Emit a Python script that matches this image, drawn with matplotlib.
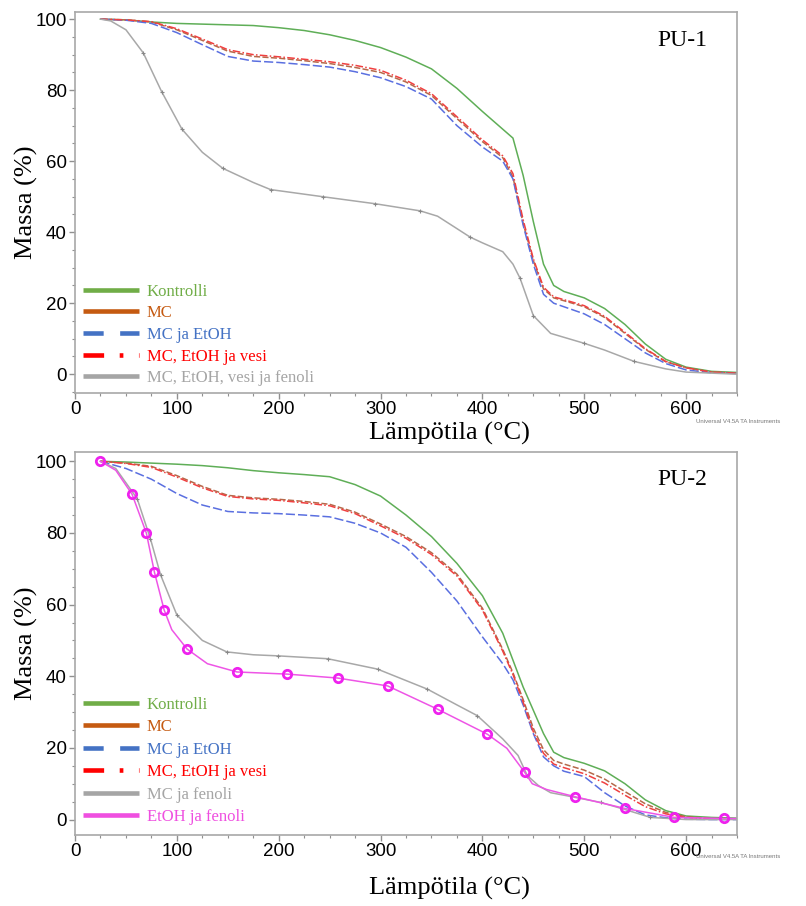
import numpy as np
import matplotlib
matplotlib.use("Agg")
import matplotlib.pyplot as plt
from matplotlib.lines import Line2D
from matplotlib.ticker import MultipleLocator

# -------------------------------
# Data (TGA curves)
# -------------------------------

# shared temperature grid for the smooth curves (°C)
temp = [25, 50, 75, 100, 125, 150, 175, 200, 225, 250, 275, 300, 325, 350, 375, 400, 420,
        430, 440, 450, 460, 470, 480, 500, 520, 540, 560, 580, 600, 625, 650]

# PU-1
pu1_kontrolli = [100, 99.8, 99.2, 98.8, 98.6, 98.4, 98.2, 97.6, 96.8, 95.6, 94, 92, 89.3, 86,
                 80.5, 74, 69, 66.5, 56, 43, 31, 25, 23.3, 21.5, 18.5, 14, 8.5, 4.2, 2, 0.8, 0.5]
pu1_mc = [100, 99.8, 99.2, 97, 94, 91, 89.5, 89, 88.3, 87.5, 86.4, 85, 82.3, 78.5, 72, 65.5,
          61, 55.5, 42.5, 32, 24, 21.5, 20.7, 19, 16, 11.5, 7, 3.5, 1.8, 0.6, 0.3]
pu1_mc_etoh = [100, 99.7, 98.8, 96.2, 92.8, 89.5, 88.2, 87.8, 87.2, 86.5, 85.2, 83.5, 81, 77.5,
               70, 64, 60, 55, 42, 31, 22.5, 20, 19, 17, 14, 10, 6, 3, 1.2, 0.4, 0.2]
pu1_mc_etoh_vesi = [100, 99.8, 99.3, 97.3, 94.4, 91.4, 90, 89.4, 88.7, 88, 87, 85.6, 82.8, 79,
                    72.5, 66, 61.5, 56.5, 43.5, 32.5, 24.5, 21.8, 21, 19.3, 16.3, 11.8, 7.2,
                    3.6, 1.8, 0.6, 0.3]

# fenoli curve of PU-1 has its own (denser) grid in the steep part
pu1_fen_temp = [25, 35, 50, 67, 85, 105, 125, 145, 175, 192, 243, 295, 339, 356, 375, 388,
                400, 420, 430, 437, 450, 467, 500, 520, 549, 580, 600, 650]
pu1_fen = [100, 99.5, 97, 90.5, 79.6, 69, 62.5, 58, 54, 52, 50, 48, 46, 44.5, 41, 38.6,
           37, 34.5, 31, 27, 16.5, 11.5, 8.7, 6.8, 3.6, 1.5, 0.6, 0]
pu1_fen_marks = [3, 4, 5, 7, 9, 10, 11, 12, 15, 19, 20, 22, 24]

# PU-2
pu2_kontrolli = [100, 99.8, 99.5, 99.2, 98.8, 98.2, 97.4, 96.8, 96.3, 95.7, 93.5, 90.3, 85, 79,
                 71.5, 62.5, 52, 44.5, 37, 30.5, 24, 18.8, 17.3, 15.7, 13.6, 10, 5.5, 2.5, 1,
                 0.6, 0.4]
pu2_mc = [100, 99.5, 98.6, 96, 93, 90.5, 89.8, 89.4, 88.8, 88, 85.8, 82.5, 79, 74.5, 68.5, 59,
          47.5, 41, 33.5, 25.5, 19.5, 16.5, 15.5, 13.8, 11.3, 7.8, 4.4, 2, 0.8, 0.3, 0.2]
pu2_mc_etoh = [100, 98, 95, 91, 87.8, 86, 85.6, 85.4, 85, 84.5, 82.7, 80, 76, 69, 61, 51,
               43.5, 39, 32, 24, 17.5, 15, 13.5, 12, 7.5, 3.8, 1.3, 0.5, 0.1, 0, 0]
pu2_mc_etoh_vesi = [100, 99.4, 98.3, 95.6, 92.6, 90.2, 89.5, 89.1, 88.4, 87.6, 85.4, 82, 78.5,
                    74, 68, 58.5, 47, 40.5, 32.8, 24.5, 18.5, 15.5, 14.5, 12.8, 10.2, 6.8, 3.6,
                    1.6, 0.6, 0.2, 0.1]

pu2_mcfen_temp = [25, 40, 50, 61, 74, 84, 100, 125, 149, 175, 199, 248, 297, 346, 375, 395,
                  420, 435, 444, 455, 467, 480, 516, 540, 565, 600, 650]
pu2_mc_fen = [100, 98, 94, 89.6, 78.4, 68.3, 57.1, 50, 46.8, 46, 45.7, 44.9, 42, 36.4, 32, 29,
              22.5, 17.9, 12.3, 9.5, 7.5, 6.8, 4.8, 2.8, 0.6, 0, 0]
pu2_mc_fen_marks = [3, 4, 5, 6, 8, 10, 11, 12, 13, 15, 18, 22, 24]

pu2_etfen_temp = [25, 40, 56, 70, 78, 87.5, 95, 110, 130, 159, 208.5, 258, 307, 356, 405, 424,
                  441.5, 449, 463, 490.6, 540, 588.6, 637, 650]
pu2_etoh_fen = [100, 97.5, 90.8, 80, 69, 58.5, 53, 47.6, 43.5, 41.2, 40.6, 39.5, 37.3, 30.8,
                23.8, 19.9, 13.2, 10, 8.4, 6.4, 3.1, 0.6, 0.3, 0.3]
pu2_etoh_fen_marks = [0, 2, 3, 4, 5, 7, 9, 10, 11, 12, 13, 14, 16, 19, 20, 21, 22]

# -------------------------------
# Styles
# -------------------------------
SERIF = "Liberation Serif"
SANS = "Liberation Sans"

GREEN = "#70ad47"
ORANGE = "#c55a11"
BLUE = "#4472c4"
RED = "#ff0000"
GRAY = "#a5a5a5"
PINK = "#ef4fe0"

plt.rcParams["font.family"] = SANS

fig = plt.figure(figsize=(8.06, 9.06), dpi=100)
ax1 = fig.add_axes([0.0931, 0.5662, 0.8213, 0.4205])
ax2 = fig.add_axes([0.0931, 0.0784, 0.8213, 0.4227])


def style_axes(ax, ylim, xlab_y):
    ax.set_xlim(0, 650)
    ax.set_ylim(*ylim)
    ax.xaxis.set_major_locator(MultipleLocator(100))
    ax.xaxis.set_minor_locator(MultipleLocator(25))
    ax.yaxis.set_major_locator(MultipleLocator(20))
    ax.yaxis.set_minor_locator(MultipleLocator(5))
    for s in ax.spines.values():
        s.set_color("#a8a8a8")
        s.set_linewidth(1.2)
    ax.tick_params(which="major", direction="out", length=4, width=1, color="#909090",
                   labelsize=13.5, pad=2)
    ax.tick_params(which="minor", direction="out", length=2.5, width=0.8, color="#909090")
    ax.set_xlabel("Lämpötila (°C)", fontfamily=SERIF, fontsize=19)
    ax.xaxis.set_label_coords(0.566, xlab_y)
    ax.set_ylabel("Massa (%)", fontfamily=SERIF, fontsize=19)
    ax.yaxis.set_label_coords(-0.056, 0.5)


lw = 1.1

# ---- PU-1 ----
ax1.plot(temp, pu1_kontrolli, color="#5fae57", lw=lw)
ax1.plot(temp, pu1_mc, color="#b5694a", lw=lw, dashes=(4, 1.5))
ax1.plot(temp, pu1_mc_etoh, color="#5a6fe0", lw=lw, dashes=(6, 2))
ax1.plot(temp, pu1_mc_etoh_vesi, color="#f04040", lw=lw, dashes=(5, 1.5, 1, 1.5))
ax1.plot(pu1_fen_temp, pu1_fen, color="#a8a8a8", lw=lw, marker="+", ms=3, mew=0.8,
         mec="#888888", markevery=pu1_fen_marks)
style_axes(ax1, (-5.3, 102), -0.075)
ax1.text(0.917, 0.926, "PU-1", transform=ax1.transAxes, fontfamily=SERIF, fontsize=17,
         ha="center", va="center")

# ---- PU-2 ----
ax2.plot(temp, pu2_kontrolli, color="#5fae57", lw=lw)
ax2.plot(temp, pu2_mc, color="#b5694a", lw=lw, dashes=(4, 1.5))
ax2.plot(temp, pu2_mc_etoh, color="#5a6fe0", lw=lw, dashes=(6, 2))
ax2.plot(temp, pu2_mc_etoh_vesi, color="#f04040", lw=lw, dashes=(5, 1.5, 1, 1.5))
ax2.plot(pu2_mcfen_temp, pu2_mc_fen, color="#a8a8a8", lw=lw, marker="+", ms=3, mew=0.8,
         mec="#888888", markevery=pu2_mc_fen_marks)
ax2.plot(pu2_etfen_temp, pu2_etoh_fen, color="#ee55e6", lw=lw, marker="o", ms=6,
         mfc="none", mec="#ee22ee", mew=2, markevery=pu2_etoh_fen_marks)
style_axes(ax2, (-4.3, 102.6), -0.11)
ax2.text(0.917, 0.927, "PU-2", transform=ax2.transAxes, fontfamily=SERIF, fontsize=17,
         ha="center", va="center")

# -------------------------------
# Legends (thick handles, coloured text)
# -------------------------------
def handles(names, colors, styles):
    out = []
    for n, c, st in zip(names, colors, styles):
        if st is None:
            out.append(Line2D([], [], color=c, lw=3.3, label=n, solid_capstyle="butt"))
        else:
            out.append(Line2D([], [], color=c, lw=3.3, label=n, dashes=st,
                              dash_capstyle="butt"))
    return out


blue_d = (4.4, 3.6)
red_d = (4.5, 3.4, 0.8, 3.4)

h1 = handles(["Kontrolli", "MC", "MC ja EtOH", "MC, EtOH ja vesi", "MC, EtOH, vesi ja fenoli"],
             [GREEN, ORANGE, BLUE, RED, GRAY], [None, None, blue_d, red_d, None])
h2 = handles(["Kontrolli", "MC", "MC ja EtOH", "MC, EtOH ja vesi", "MC ja fenoli", "EtOH ja fenoli"],
             [GREEN, ORANGE, BLUE, RED, GRAY, PINK], [None, None, blue_d, red_d, None, None])

ax1.legend(handles=h1, loc="lower left", bbox_to_anchor=(-0.006, -0.013), frameon=False,
           prop={"family": SERIF, "size": 12}, labelcolor="linecolor",
           handlelength=3.4, handletextpad=0.45, labelspacing=0.34, borderaxespad=0.3)
ax2.legend(handles=h2, loc="lower left", bbox_to_anchor=(-0.006, -0.005), frameon=False,
           prop={"family": SERIF, "size": 12}, labelcolor="linecolor",
           handlelength=3.4, handletextpad=0.45, labelspacing=0.39, borderaxespad=0.3)

# small instrument watermark
ax1.text(0.938, -0.075, "Universal V4.5A TA Instruments", transform=ax1.transAxes,
         fontsize=4.3, color="#777777", ha="left", va="center")
ax2.text(0.938, -0.055, "Universal V4.5A TA Instruments", transform=ax2.transAxes,
         fontsize=4.3, color="#777777", ha="left", va="center")

fig.savefig("out.png", dpi=100)
